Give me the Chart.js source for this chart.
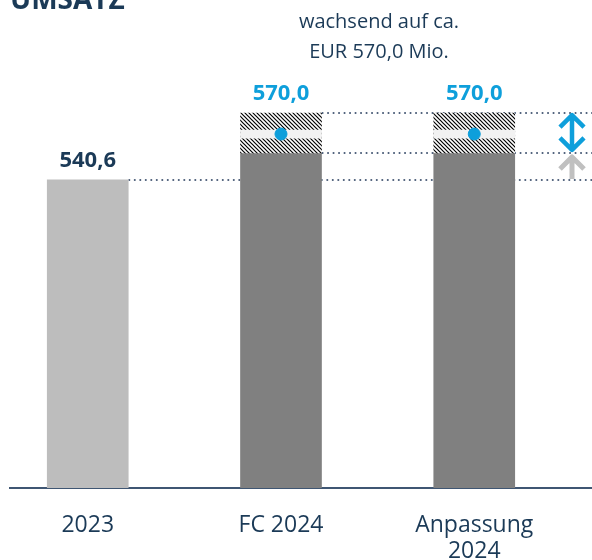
<!DOCTYPE html>
<html>
<head>
<meta charset="utf-8">
<script src="https://cdn.jsdelivr.net/npm/chart.js@4/dist/chart.umd.min.js"></script>
<style>
  html, body { margin: 0; padding: 0; background: #ffffff; }
  #wrap { width: 592px; height: 560px; }
</style>
</head>
<body>
<div id="wrap"><canvas id="c" width="592" height="560"></canvas></div>
<script>
// ---- data ----
const categories = ['2023', 'FC 2024', 'Anpassung 2024'];
const tickLabels = [['2023'], ['FC 2024'], ['Anpassung', '2024']];
const solidValues = [540.6, 552.5, 552.5];      // solid bar tops
const targetValues = [null, 570.0, 570.0];      // top of hatched range
const bandLow = [null, 559.0, 559.0];           // light band inside range
const bandHigh = [null, 562.5, 562.5];
const markerValues = [null, 560.8, 560.8];      // blue dot
const valueLabels = ['540,6', '570,0', '570,0'];
const labelValues = [540.6, 570.0, 570.0];
const subtitleLines = ['wachsend auf ca.', 'EUR 570,0 Mio.'];
const titleText = 'UMSATZ';

const NAVY = '#1b3a57';
const BLUE = '#0e9fdb';
const barColors = ['#bdbdbd', '#808080', '#808080'];

function hatchPattern() {
  const c = document.createElement('canvas');
  c.width = 4; c.height = 4;
  const g = c.getContext('2d');
  g.fillStyle = '#ffffff'; g.fillRect(0, 0, 4, 4);
  g.strokeStyle = '#000000'; g.lineWidth = 1.2;
  g.beginPath();
  g.moveTo(-1, -1); g.lineTo(5, 5);
  g.moveTo(3, -1); g.lineTo(5, 1);
  g.moveTo(-1, 3); g.lineTo(1, 5);
  g.stroke();
  return g.createPattern(c, 'repeat');
}
const hatch = hatchPattern();

const pts = (arr) => arr.map((v, i) => v === null ? null : { x: i, y: v }).filter(p => p);
const rangePts = (lo, hi) => lo.map((v, i) => v === null ? null : { x: i, y: [v, hi[i]] }).filter(p => p);

const refLinesPlugin = {
  id: 'refLines',
  beforeDatasetsDraw(chart) {
    const { ctx, chartArea, scales: { y } } = chart;
    const solidMeta = chart.getDatasetMeta(0);
    const lines = [
      { value: solidValues[0], from: 0 },
      { value: targetValues[1], from: 1 },
      { value: solidValues[1], from: 1 }
    ];
    ctx.save();
    ctx.strokeStyle = '#4b5d78';
    ctx.lineWidth = 2;
    ctx.lineCap = 'round';
    ctx.setLineDash([0.1, 5.4]);
    lines.forEach(l => {
      const bar = solidMeta.data[l.from];
      const x0 = bar.x + bar.width / 2 + 1;
      const py = Math.round(y.getPixelForValue(l.value));
      ctx.beginPath();
      ctx.moveTo(x0, py);
      ctx.lineTo(chartArea.right, py);
      ctx.stroke();
    });
    ctx.restore();
  }
};

const annotPlugin = {
  id: 'annot',
  afterDatasetsDraw(chart) {
    const { ctx, chartArea, scales: { x, y } } = chart;
    ctx.save();
    // value labels
    ctx.textAlign = 'center';
    ctx.textBaseline = 'alphabetic';
    ctx.font = 'bold 22px "Open Sans"';
    labelValues.forEach((v, i) => {
      ctx.fillStyle = i === 0 ? NAVY : BLUE;
      ctx.fillText(valueLabels[i], x.getPixelForValue(i), y.getPixelForValue(v) - 13);
    });
    // arrows
    const ax = chartArea.right - 20;
    const yTop = y.getPixelForValue(targetValues[1]);
    const yMid = y.getPixelForValue(solidValues[1]);
    const yLow = y.getPixelForValue(solidValues[0]);
    const hw = 12, hh = 12;
    ctx.lineWidth = 4.5;
    ctx.lineJoin = 'round';
    ctx.lineCap = 'butt';
    ctx.strokeStyle = BLUE;
    ctx.beginPath();
    ctx.moveTo(ax, yTop + 2); ctx.lineTo(ax, yMid - 3);
    ctx.moveTo(ax - hw, yTop + hh + 2); ctx.lineTo(ax, yTop + 2); ctx.lineTo(ax + hw, yTop + hh + 2);
    ctx.moveTo(ax - hw, yMid - hh - 3); ctx.lineTo(ax, yMid - 3); ctx.lineTo(ax + hw, yMid - hh - 3);
    ctx.stroke();
    ctx.strokeStyle = '#c0c0c0';
    ctx.lineWidth = 5;
    ctx.beginPath();
    ctx.moveTo(ax, yMid + 4); ctx.lineTo(ax, yLow - 1);
    ctx.moveTo(ax - hw, yMid + hh + 4); ctx.lineTo(ax, yMid + 4); ctx.lineTo(ax + hw, yMid + hh + 4);
    ctx.stroke();
    ctx.restore();
  },
  afterDraw(chart) {
    const { ctx } = chart;
    ctx.save();
    ctx.fillStyle = NAVY;
    ctx.textBaseline = 'alphabetic';
    ctx.textAlign = 'left';
    ctx.font = 'bold 28px "Open Sans"';
    ctx.fillText(titleText, 10, 9);
    ctx.textAlign = 'center';
    ctx.font = '20px "Open Sans"';
    ctx.fillText(subtitleLines[0], 379, 28);
    ctx.fillText(subtitleLines[1], 379, 58);
    ctx.restore();
  }
};

new Chart(document.getElementById('c'), {
  type: 'bar',
  data: {
    datasets: [
      {
        label: 'Umsatz',
        data: pts(solidValues),
        backgroundColor: barColors,
        barThickness: 81,
        grouped: false,
        order: 3
      },
      {
        label: 'Bandbreite',
        data: rangePts(solidValues.map((v, i) => targetValues[i] === null ? null : v), targetValues),
        backgroundColor: hatch,
        barThickness: 81,
        grouped: false,
        order: 2
      },
      {
        label: 'Band',
        data: rangePts(bandLow, bandHigh),
        backgroundColor: '#f2f2f2',
        barThickness: 81,
        grouped: false,
        order: 1
      },
      {
        type: 'scatter',
        label: 'Prognose',
        data: pts(markerValues),
        backgroundColor: BLUE,
        borderColor: BLUE,
        pointRadius: 6,
        pointHoverRadius: 6,
        order: 0
      }
    ]
  },
  options: {
    responsive: false,
    animation: false,
    devicePixelRatio: 1,
    layout: { autoPadding: false, padding: { left: 10, right: 0, top: 20, bottom: 0 } },
    plugins: { legend: { display: false }, tooltip: { enabled: false }, title: { display: false } },
    scales: {
      x: {
        type: 'linear',
        min: -0.4023,
        max: 2.6093,
        offset: false,
        z: 1,
        grid: { display: false, drawTicks: false, offset: false },
        border: { display: true, color: '#3f5673', width: 2 },
        afterBuildTicks(scale) { scale.ticks = categories.map((c, i) => ({ value: i })); },
        afterFit(scale) { scale.height = 72; },
        ticks: {
          autoSkip: false,
          maxRotation: 0,
          padding: 24,
          color: NAVY,
          font: { family: 'Open Sans', size: 23, lineHeight: 1.13 },
          callback: (v) => tickLabels[v]
        }
      },
      y: {
        type: 'linear',
        display: false,
        min: 405,
        max: 611
      }
    }
  },
  plugins: [refLinesPlugin, annotPlugin]
});
</script>
</body>
</html>
